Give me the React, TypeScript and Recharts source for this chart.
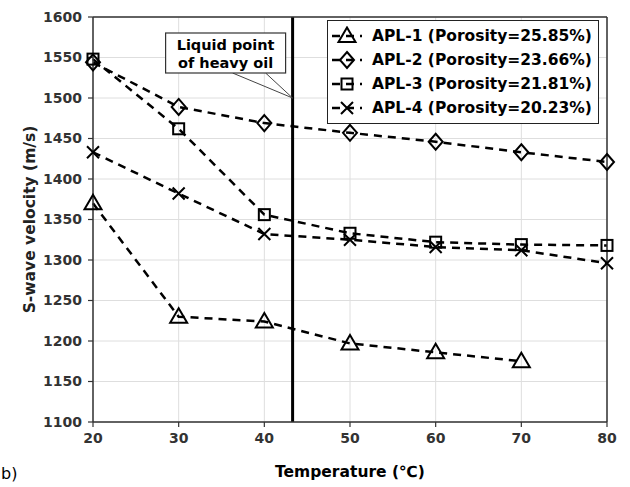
import {
    LineChart,
    Line,
    XAxis,
    YAxis,
    CartesianGrid,
    Legend,
    ReferenceLine,
    ReferenceDot,
} from 'recharts';

const temperatures = [20, 30, 40, 50, 60, 70, 80];
const apl1 = [1370, 1230, 1224, 1197, 1186, 1175, null];
const apl2 = [1544, 1489, 1469, 1457, 1446, 1433, 1421];
const apl3 = [1548, 1462, 1356, 1333, 1322, 1319, 1318];
const apl4 = [1433, 1382, 1332, 1325, 1316, 1312, 1296];
const yTicks = [1100, 1150, 1200, 1250, 1300, 1350, 1400, 1450, 1500, 1550, 1600];
const liquidPoint = 43.3;

const seriesNames = [
    'APL-1 (Porosity=25.85%)',
    'APL-2 (Porosity=23.66%)',
    'APL-3 (Porosity=21.81%)',
    'APL-4 (Porosity=20.23%)',
];
const seriesMarkers = ['triangle', 'diamond', 'square', 'cross'];

const chartData = temperatures.map((t, i) => ({
    temp: t,
    apl1: apl1[i],
    apl2: apl2[i],
    apl3: apl3[i],
    apl4: apl4[i],
}));

const FONT = '"DejaVu Sans", sans-serif';

/**
 * Open marker shapes drawn at (cx, cy)
 */
function marker(kind: string, cx: number, cy: number, key?: any) {
    const common = { fill: 'none', stroke: '#000', strokeWidth: 2 };
    if (kind === 'triangle') {
        return <path key={key} d={`M${cx},${cy - 8.5} L${cx + 8.5},${cy + 6} L${cx - 8.5},${cy + 6} Z`} {...common} />;
    }
    if (kind === 'diamond') {
        return <path key={key} d={`M${cx},${cy - 8} L${cx + 7},${cy} L${cx},${cy + 8} L${cx - 7},${cy} Z`} {...common} />;
    }
    if (kind === 'square') {
        return <rect key={key} x={cx - 5.5} y={cy - 5.5} width={11} height={11} {...common} />;
    }
    return (
        <path key={key} d={`M${cx - 6},${cy - 6} L${cx + 6},${cy + 6} M${cx - 6},${cy + 6} L${cx + 6},${cy - 6}`} {...common} />
    );
}

function makeDot(kind: string) {
    return (props: any) => {
        const { cx, cy, key, value } = props;
        if (cx == null || cy == null || value == null) return <g key={key} />;
        return marker(kind, cx, cy, key);
    };
}

function LegendBox() {
    return (
        <div
            style={{
                border: '1.5px solid #222',
                background: '#fff',
                padding: '3px 6px 3px 2px',
                fontFamily: FONT,
                fontWeight: 'bold',
                fontSize: 15.5,
                color: '#000',
                lineHeight: '24px',
            }}
        >
            {seriesNames.map((name, i) => (
                <div key={name} style={{ display: 'flex', alignItems: 'center', whiteSpace: 'nowrap' }}>
                    <svg width={34} height={20} style={{ marginRight: 8 }}>
                        <line x1={2} y1={10} x2={32} y2={10} stroke="#000" strokeWidth={2.5} strokeDasharray="8 6" />
                        {marker(seriesMarkers[i], 17, 10)}
                    </svg>
                    <span>{name}</span>
                </div>
            ))}
        </div>
    );
}

function Callout(props: any) {
    const { cx, cy } = props;
    return (
        <g>
            <line x1={cx - 60} y1={cy - 25} x2={cx} y2={cy} stroke="#444" strokeWidth={1} />
            <line x1={cx - 27} y1={cy - 25} x2={cx} y2={cy} stroke="#444" strokeWidth={1} />
            <rect x={cx - 127} y={cy - 65} width={120} height={40} fill="#fff" stroke="#333" strokeWidth={1.2} />
            <text x={cx - 67} y={cy - 48} textAnchor="middle" fontFamily={FONT} fontWeight="bold" fontSize={14.5} fill="#000">
                Liquid point
            </text>
            <text x={cx - 67} y={cy - 30} textAnchor="middle" fontFamily={FONT} fontWeight="bold" fontSize={14.5} fill="#000">
                of heavy oil
            </text>
        </g>
    );
}

const tickStyle = { fill: '#333', fontSize: 14, fontWeight: 'bold', fontFamily: FONT };
const axisLine = { stroke: '#333', strokeWidth: 1.5 };
const tickLine = { stroke: '#333', strokeWidth: 1.2 };

export default function App() {
    return (
        <div style={{ position: 'absolute', left: 0, top: 0, width: 630, height: 487, background: '#fff' }}>
            <LineChart width={630} height={487} data={chartData} margin={{ top: 0, right: 0, bottom: 15, left: 0 }}>
                <CartesianGrid stroke="#dedede" strokeWidth={1} />
                <XAxis
                    dataKey="temp"
                    type="number"
                    domain={[20, 80]}
                    ticks={temperatures}
                    height={50}
                    tick={tickStyle}
                    tickSize={5}
                    tickMargin={6}
                    axisLine={axisLine}
                    tickLine={tickLine}
                    label={{
                        content: ({ viewBox }: any) => (
                            <text
                                x={viewBox.x + viewBox.width / 2}
                                y={viewBox.y + 55}
                                textAnchor="middle"
                                fontFamily={FONT}
                                fontWeight="bold"
                                fontSize={15.5}
                                fill="#000"
                            >
                                Temperature (℃)
                            </text>
                        ),
                    }}
                />
                <XAxis
                    xAxisId="top"
                    orientation="top"
                    type="number"
                    domain={[20, 80]}
                    ticks={temperatures}
                    height={17}
                    tickFormatter={() => ''}
                    tickSize={5}
                    axisLine={axisLine}
                    tickLine={tickLine}
                />
                <YAxis
                    type="number"
                    domain={[1100, 1600]}
                    ticks={yTicks}
                    width={93}
                    tick={tickStyle}
                    tickSize={5}
                    tickMargin={6}
                    axisLine={axisLine}
                    tickLine={tickLine}
                    label={{
                        content: ({ viewBox }: any) => {
                            const x = 30;
                            const y = viewBox.y + viewBox.height / 2;
                            return (
                                <text
                                    x={x}
                                    y={y}
                                    transform={`rotate(-90, ${x}, ${y})`}
                                    textAnchor="middle"
                                    dominantBaseline="middle"
                                    fontFamily={FONT}
                                    fontWeight="bold"
                                    fontSize={15.5}
                                    fill="#222"
                                >
                                    S-wave velocity (m/s)
                                </text>
                            );
                        },
                    }}
                />
                <YAxis
                    yAxisId="right"
                    orientation="right"
                    type="number"
                    domain={[1100, 1600]}
                    ticks={yTicks}
                    width={23}
                    tickFormatter={() => ''}
                    tickSize={5}
                    axisLine={axisLine}
                    tickLine={tickLine}
                />
                <ReferenceLine x={liquidPoint} stroke="#000" strokeWidth={3} />
                <ReferenceDot x={liquidPoint} y={1500} shape={Callout} />
                <Line dataKey="apl1" stroke="#000" strokeWidth={2.5} strokeDasharray="8 6" dot={makeDot('triangle')} isAnimationActive={false} />
                <Line dataKey="apl2" stroke="#000" strokeWidth={2.5} strokeDasharray="8 6" dot={makeDot('diamond')} isAnimationActive={false} />
                <Line dataKey="apl3" stroke="#000" strokeWidth={2.5} strokeDasharray="8 6" dot={makeDot('square')} isAnimationActive={false} />
                <Line dataKey="apl4" stroke="#000" strokeWidth={2.5} strokeDasharray="8 6" dot={makeDot('cross')} isAnimationActive={false} />
                <Legend
                    layout="vertical"
                    align="center"
                    verticalAlign="middle"
                    content={() => <LegendBox />}
                    wrapperStyle={{ left: 327, top: 20, width: 'auto' }}
                />
            </LineChart>
            <div
                style={{
                    position: 'absolute',
                    left: 1,
                    top: 464,
                    fontFamily: FONT,
                    fontSize: 16,
                    lineHeight: '20px',
                    color: '#000',
                }}
            >
                b)
            </div>
        </div>
    );
}
